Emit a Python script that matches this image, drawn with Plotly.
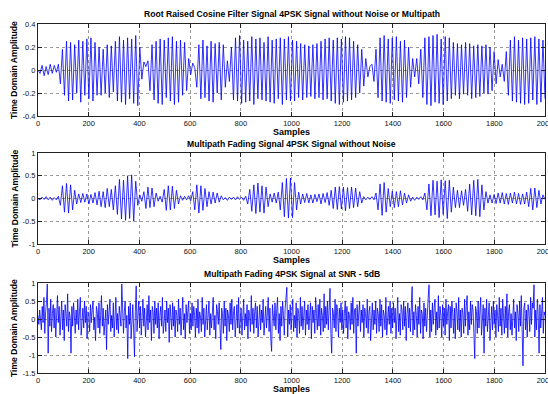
import numpy as np
import plotly.graph_objects as go

# ---------------- data ----------------
# Top: Root raised cosine filtered 4PSK signal, alternating peak values (one per half cycle)
top_peaks = [
    0.0, -0.03, 0.04, -0.05, 0.03, -0.04, 0.05, -0.03, 0.04, -0.02,
    0.05, -0.12, 0.18, -0.22, 0.25, -0.27, 0.24, -0.26, 0.22, -0.20,
    0.26, -0.28, 0.25, -0.22, 0.27, -0.25, 0.28, -0.27, 0.24, -0.22,
    0.20, -0.22, 0.18, -0.20, 0.22, -0.24, 0.21, -0.19, 0.25, -0.27,
    0.29, -0.28, 0.26, -0.30, 0.28, -0.25, 0.27, -0.29, 0.30, -0.31,
    0.20, -0.08, 0.07, 0.03, 0.08, -0.18, 0.22, -0.26, 0.25, -0.29,
    0.27, -0.30, 0.26, -0.24, 0.28, -0.27, 0.29, -0.30, 0.25, -0.28,
    0.26, -0.22, 0.24, -0.18, 0.10, -0.04, 0.06, 0.02, -0.15, 0.22,
    -0.25, 0.26, -0.24, 0.21, -0.27, 0.25, -0.28, 0.23, -0.20, 0.24,
    -0.26, 0.22, -0.15, 0.08, -0.10, 0.20, -0.26, 0.28, -0.27, 0.30,
    -0.29, 0.26, -0.28, 0.25, -0.27, 0.29, -0.30, 0.27, -0.25, 0.28,
    -0.26, 0.24, -0.27, 0.29, -0.28, 0.26, -0.29, 0.27, -0.25, 0.28,
    -0.30, 0.27, -0.26, 0.29, -0.27, 0.26, -0.27, 0.25, -0.24, 0.23,
    -0.26, 0.22, -0.24, 0.21, -0.23, 0.22, -0.25, 0.23, -0.24, 0.25,
    -0.26, 0.27, -0.25, 0.28, -0.27, 0.26, -0.29, 0.28, -0.30, 0.27,
    -0.28, 0.29, -0.27, 0.28, -0.26, 0.25, -0.24, 0.22, -0.20, 0.18,
    -0.14, 0.10, -0.06, 0.03, 0.05, -0.10, 0.18, -0.24, 0.28, -0.27,
    0.30, -0.28, 0.27, -0.29, 0.28, -0.26, 0.29, -0.27, 0.25, -0.28,
    0.26, -0.24, 0.20, -0.15, 0.10, -0.06, 0.10, -0.12, 0.18, -0.24,
    0.28, -0.30, 0.29, -0.31, 0.30, -0.28, 0.31, -0.29, 0.27, -0.30,
    0.29, -0.27, 0.28, -0.25, 0.24, -0.22, 0.23, -0.25, 0.22, -0.21,
    0.24, -0.22, 0.23, -0.25, 0.21, -0.24, 0.22, -0.23, 0.21, -0.20,
    0.22, -0.21, 0.20, -0.18, 0.16, -0.12, 0.09, -0.06, 0.05, -0.10,
    0.16, -0.22, 0.26, -0.27, 0.29, -0.28, 0.26, -0.29, 0.28, -0.30,
    0.27, -0.29, 0.28, -0.26, 0.29, -0.30, 0.27, -0.28, 0.26, -0.25,
]

# Middle: multipath faded signal without noise, alternating peak values
mid_peaks = [
    0.0, -0.03, 0.03, -0.02, 0.04, -0.03, 0.03, -0.04, 0.02, -0.03,
    0.05, -0.15, 0.28, -0.30, 0.33, -0.32, 0.30, -0.25, 0.18, -0.12,
    0.10, -0.09, 0.11, -0.08, 0.10, -0.12, 0.09, -0.10, 0.13, -0.14,
    0.16, -0.18, 0.15, -0.20, 0.22, -0.18, 0.20, -0.25, 0.28, -0.35,
    0.42, -0.45, 0.40, -0.48, 0.50, -0.44, 0.52, -0.50, 0.38, -0.15,
    0.08, -0.06, 0.15, -0.22, 0.25, -0.20, 0.23, -0.18, 0.12, -0.06,
    0.05, -0.08, 0.20, -0.26, 0.28, -0.25, 0.27, -0.22, 0.18, -0.12,
    0.06, -0.04, 0.05, -0.03, 0.06, -0.05, 0.15, -0.25, 0.30, -0.32,
    0.28, -0.26, 0.22, -0.18, 0.15, -0.12, 0.14, -0.10, 0.12, -0.08,
    0.06, -0.03, 0.02, -0.04, 0.03, -0.02, 0.03, -0.03, 0.04, -0.02,
    0.03, -0.04, 0.05, -0.12, 0.20, -0.28, 0.30, -0.33, 0.34, -0.30,
    0.28, -0.32, 0.25, -0.18, 0.10, -0.08, 0.12, -0.10, 0.14, -0.25,
    0.35, -0.40, 0.44, -0.43, 0.45, -0.42, 0.35, -0.25, 0.14, -0.12,
    0.10, -0.09, 0.11, -0.10, 0.08, -0.10, 0.09, -0.07, 0.10, -0.12,
    0.11, -0.09, 0.13, -0.15, 0.18, -0.22, 0.25, -0.24, 0.26, -0.23,
    0.25, -0.27, 0.24, -0.22, 0.25, -0.20, 0.23, -0.18, 0.15, -0.10,
    0.04, -0.03, 0.03, -0.02, 0.04, -0.03, 0.12, -0.25, 0.32, -0.37,
    0.35, -0.30, 0.22, -0.18, 0.16, -0.20, 0.15, -0.18, 0.17, -0.14,
    0.12, -0.10, 0.08, -0.06, 0.03, -0.04, 0.03, -0.02, 0.04, -0.03,
    0.12, -0.25, 0.32, -0.38, 0.40, -0.36, 0.38, -0.42, 0.41, -0.35,
    0.39, -0.44, 0.40, -0.30, 0.25, -0.20, 0.18, -0.20, 0.17, -0.15,
    0.20, -0.28, 0.32, -0.36, 0.40, -0.38, 0.42, -0.40, 0.30, -0.25,
    0.15, -0.10, 0.08, -0.10, 0.09, -0.11, 0.12, -0.10, 0.13, -0.12,
    0.11, -0.13, 0.12, -0.10, 0.14, -0.12, 0.11, -0.13, 0.10, -0.12,
    0.14, -0.18, 0.22, -0.25, 0.23, -0.20, 0.18, -0.12, 0.08, -0.02,
]

# Bottom: multipath faded signal at SNR -5 dB (600 values across the 2000 samples)
noisy = [
    0.1, -0.15, 0.25, 0.05, -0.3, 0.35, -0.1, 0.6, -0.4, 0.2, 0.45, 0.97, -0.95, 0.3, -0.2, 0.55, -0.35, 0.15, 0.4, -0.25,
    0.3, -0.5, 0.2, 0.65, -0.1, 0.35, -0.45, 0.1, 0.5, -0.3, 0.25, -0.6, 0.4, 0.15, -0.2, 0.7, -0.35, 0.2, 0.05, -0.95,
    0.35, -0.2, 0.45, 0.1, -0.4, 0.25, -0.15, 0.55, -0.3, 0.2, 0.6, -0.45, 0.1, 0.3, -0.25, 0.5, -0.1, 0.35, -0.55, 0.2,
    0.15, -0.35, 0.4, -0.1, 0.25, 0.5, -0.3, 0.05, -0.6, 0.35, 0.2, -0.25, 0.45, -0.4, 0.1, 0.65, -0.2, 0.3, -0.45, 0.15,
    0.25, -0.85, 0.4, -0.15, 0.3, 0.55, -0.35, 0.1, -0.25, 0.45, -0.5, 0.2, 0.6, -0.3, 0.15, -0.4, 0.35, 0.1, -0.2, 0.97,
    0.3, -0.4, 0.2, 0.5, -0.25, 0.1, -1.1, 0.35, -0.15, 0.45, -0.55, 0.25, 0.4, -0.3, -1.05, 0.2, 0.92, -0.35, 0.15, 0.5,
    -0.25, 0.35, -0.45, 0.1, 0.55, -0.2, 0.3, -0.5, 0.15, 0.4, -0.3, 0.65, -0.1, 0.25, -0.6, 0.35, 0.2, -0.4, 0.5, -0.15,
    0.3, -0.25, 0.45, -0.55, 0.1, 0.35, -0.2, 0.6, -0.4, 0.15, 0.25, -0.35, 0.5, -0.1, 0.3, -0.65, 0.4, 0.05, -0.3, 0.45,
    -0.2, 0.35, -0.5, 0.25, 0.1, -0.35, 0.55, -0.15, 0.3, -0.45, 0.2, 0.6, -0.3, 0.15, -0.55, 0.4, -0.1, 0.25, 0.5, -0.4,
    0.15, -0.3, 0.45, -0.2, 0.35, 0.1, -0.5, 0.3, -0.25, 0.55, -0.4, 0.2, 0.05, -0.35, 0.6, -0.15, 0.3, -0.5, 0.25, 0.4,
    -0.3, 0.2, 0.5, -0.45, 0.15, -0.25, 0.35, 0.6, -0.3, 0.1, -0.55, 0.4, 0.2, -0.15, 0.45, -0.35, -0.85, 0.3, 0.15, -0.4,
    0.5, -0.2, 0.3, -0.6, 0.25, 0.1, -0.35, 0.45, -0.15, 0.55, -0.3, 0.2, 0.35, -0.5, 0.15, 0.4, -0.25, 0.6, -0.4, 0.1,
    0.3, -0.45, 0.2, 0.55, -0.3, 0.15, -0.2, 0.4, -0.55, 0.25, 0.1, -0.35, 0.65, -0.15, 0.3, -0.4, 0.2, 0.45, -0.25, 0.35,
    -0.5, 0.15, 0.4, -0.3, 0.25, -0.1, 0.55, -0.45, 0.2, 0.35, -0.25, 0.1, 0.6, -0.35, 0.3, -0.55, -0.9, 0.4, 0.15, -0.2,
    0.45, -0.3, 0.25, 0.6, -0.4, 0.15, -0.6, 0.35, -0.2, 0.5, 0.1, -0.45, 0.3, 0.65, 0.88, -0.5, 0.25, -0.15, 0.4, -0.3,
    0.2, 0.55, -0.35, 0.1, -0.25, 0.45, -0.5, 0.3, 0.15, -0.4, 0.6, -0.2, 0.35, -0.3, 0.1, 0.5, -0.45, 0.25, -0.15, 0.4,
    -0.3, 0.2, 0.45, -0.55, 0.35, -0.1, 0.25, -0.4, 0.6, 0.15, -0.3, 0.4, -0.2, 0.55, -0.45, 0.3, 0.1, -0.35, 0.7, -0.25,
    0.35, -0.15, 0.5, -0.3, 0.6, 0.85, -0.4, -0.95, 0.3, 0.15, -0.25, 0.55, -0.35, 0.4, 0.2, -0.5, 0.3, -0.1, 0.45, -0.3,
    0.25, -0.4, 0.15, 0.5, -0.25, 0.35, -0.55, 0.2, 0.1, -0.3, 0.45, -0.15, 0.6, -0.4, 0.25, 0.3, -0.95, 0.4, -0.2, 0.15,
    0.5, -0.35, 0.25, -0.1, 0.4, -0.5, 0.3, 0.15, -0.25, 0.55, -0.4, 0.2, 0.35, -0.6, 0.1, 0.45, -0.3, 0.25, -0.15, 0.5,
    -0.4, 0.3, 0.15, -0.35, 0.55, -0.2, 0.4, -0.5, 0.25, 0.1, -0.3, 0.6, -0.45, 0.2, 0.35, -0.15, 0.5, -0.4, 0.3, -0.25,
    0.45, -0.1, 0.3, -0.55, 0.2, 0.6, -0.35, 0.15, -0.45, 0.4, 0.25, -0.3, 0.5, -0.2, 0.35, -0.6, 0.15, 0.45, -0.25, 0.3,
    -0.35, 0.55, 0.9, -0.45, 0.2, -0.3, 0.4, 0.1, -0.5, 0.35, -0.15, 0.6, -0.4, 0.25, 0.15, -0.55, 0.45, -0.2, 0.3, -0.35,
    0.4, 0.6, 0.95, -0.5, 0.25, -0.35, 0.45, -0.15, 0.3, 0.55, -0.45, 0.2, -0.3, 0.65, -0.25, 0.35, 0.1, -0.5, 0.4, -0.2,
    0.3, -0.45, 0.55, -0.15, 0.2, 0.4, -0.6, 0.35, -0.25, 0.5, 0.15, -0.4, 0.3, -0.55, 0.45, 0.2, -0.3, 0.6, -0.35, 0.25,
    -0.5, 0.3, 0.15, -0.4, 0.55, -0.2, 0.35, 0.65, -0.45, 0.2, -0.3, 0.5, -0.15, 0.4, 0.25, -0.55, -1.1, 0.35, 0.2, -0.4,
    0.5, -0.25, 0.3, 0.6, -0.45, 0.15, 0.4, -0.95, 0.3, -0.2, 0.55, -0.35, 0.25, 0.45, -0.6, 0.2, 0.35, -0.3, 0.5, -0.15,
    0.25, -0.5, 0.4, 0.1, -0.35, 0.6, -0.2, 0.3, -0.45, 0.55, 0.15, -0.4, 0.35, -0.25, 0.7, -0.5, 0.2, 0.4, -0.3, 0.15,
    -0.45, 0.35, 0.55, -0.25, 0.2, -0.6, 0.4, 0.15, -0.35, 0.5, -0.2, 0.65, -0.4, -1.3, 0.3, 0.45, -0.3, 0.25, -0.5, 0.4,
    0.2, -0.35, 0.6, -0.15, 0.45, 0.3, 0.95, -0.5, 0.25, -0.3, 0.55, 0.1, -0.95, 0.4, -0.25, 0.35, 0.6, -0.4, 0.2, 0.1,
]

n_samples = 2000
x_ticks = [0, 200, 400, 600, 800, 1000, 1200, 1400, 1600, 1800, 2000]
top_yticks = [0.4, 0.2, 0, -0.2, -0.4]
top_yticktext = ["0.4", "0.2", "0", "-0.2", "-0.4"]
mid_yticks = [1, 0.5, 0, -0.5, -1]
mid_yticktext = ["1", "0.5", "0", "-0.5", "-1"]
bot_yticks = [1, 0.5, 0, -0.5, -1, -1.5]
bot_yticktext = ["1", "0.5", "0", "-0.5", "-1", "-1.5"]

titles = [
    "Root Raised Cosine Filter Signal 4PSK Signal without Noise or Multipath",
    "Multipath Fading Signal 4PSK Signal without Noise",
    "Multipath Fading 4PSK Signal at SNR - 5dB",
]
x_label = "Samples"
y_label = "Time Domain Amplitude"

# ---------------- figure ----------------
FONT = "Liberation Sans, Arial, sans-serif"
BLUE = "#0000ff"

def sample_axis(vals):
    return np.linspace(0, n_samples, len(vals))

fig = go.Figure()
fig.add_trace(go.Scatter(x=sample_axis(top_peaks), y=top_peaks, mode="lines",
                         line=dict(color=BLUE, width=0.8), xaxis="x", yaxis="y"))
fig.add_trace(go.Scatter(x=sample_axis(mid_peaks), y=mid_peaks, mode="lines",
                         line=dict(color=BLUE, width=0.8), xaxis="x2", yaxis="y2"))
fig.add_trace(go.Scatter(x=sample_axis(noisy), y=noisy, mode="lines",
                         line=dict(color=BLUE, width=0.8), xaxis="x3", yaxis="y3"))

grid = dict(showgrid=True, gridcolor="#9a9a9a", griddash="dot", gridwidth=1,
            showline=True, linecolor="#222", linewidth=1, mirror="ticks",
            ticks="inside", ticklen=4, tickcolor="#222", zeroline=False,
            automargin=False, ticklabeloverflow="allow",
            tickfont=dict(family=FONT, size=7.5, color="#111"))
common_x = dict(range=[0, n_samples], tickvals=x_ticks, ticktext=[str(v) for v in x_ticks], **grid)
common_y = dict(**grid)

W, H = 548, 394
L, R, T, B = 38, 3, 24, 21
ph = H - T - B

def py(pix):  # pixel row -> paper y
    return (H - B - pix) / ph

def px(pix):  # pixel col -> paper x
    return (pix - L) / (W - L - R)

fig.update_layout(
    width=W, height=H,
    margin=dict(l=L, r=R, t=T, b=B),
    paper_bgcolor="white", plot_bgcolor="white",
    showlegend=False,
    xaxis=dict(domain=[0, 1], anchor="y", **common_x),
    yaxis=dict(domain=[py(116), py(24)], anchor="x", range=[-0.4, 0.4],
               tickvals=top_yticks, ticktext=top_yticktext, **common_y),
    xaxis2=dict(domain=[0, 1], anchor="y2", **common_x),
    yaxis2=dict(domain=[py(244), py(153)], anchor="x2", range=[-1, 1],
                tickvals=mid_yticks, ticktext=mid_yticktext, **common_y),
    xaxis3=dict(domain=[0, 1], anchor="y3", **common_x),
    yaxis3=dict(domain=[py(373), py(283)], anchor="x3", range=[-1.5, 1],
                tickvals=bot_yticks, ticktext=bot_yticktext, **common_y),
)

ann = []
cx = px((L + W - R) / 2)
for t, yy in zip(titles, [14, 144, 274]):
    ann.append(dict(text=f"<b>{t}</b>", x=cx, y=py(yy), xref="paper", yref="paper",
                    showarrow=False, xanchor="center", yanchor="middle",
                    font=dict(family=FONT, size=8.6, color="#000")))
for yy in [132, 260, 389]:
    ann.append(dict(text=f"<b>{x_label}</b>", x=cx, y=py(yy), xref="paper", yref="paper",
                    showarrow=False, xanchor="center", yanchor="middle",
                    font=dict(family=FONT, size=9, color="#000")))
for yy in [70, 198.5, 328]:
    ann.append(dict(text=f"<b>{y_label}</b>", x=px(14), y=py(yy), xref="paper", yref="paper",
                    showarrow=False, xanchor="center", yanchor="middle", textangle=-90,
                    font=dict(family=FONT, size=8.6, color="#000")))
fig.update_layout(annotations=ann)

fig.write_html("out.html", config={"displayModeBar": False},
               post_script="document.body.style.margin='0';document.body.style.padding='0';")
